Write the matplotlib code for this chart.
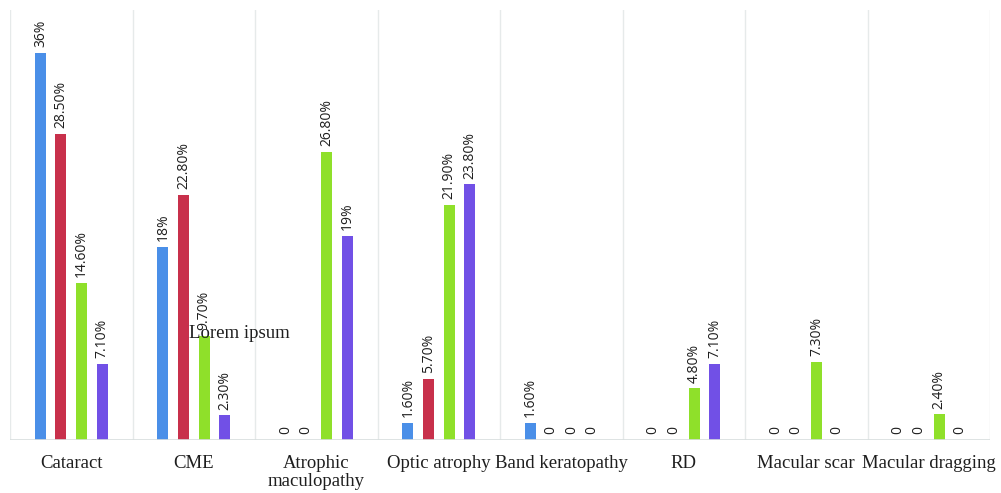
"""Complication rates per group, grouped bar chart with rotated value labels."""
import matplotlib
matplotlib.use("Agg")
import matplotlib.pyplot as plt
import numpy as np

categories = ["Cataract", "CME", "Atrophic\nmaculopathy", "Optic atrophy",
              "Band keratopathy", "RD", "Macular scar", "Macular dragging"]

series_a = [36, 18, 0, 1.6, 1.6, 0, 0, 0]
series_b = [28.5, 22.8, 0, 5.7, 0, 0, 0, 0]
series_c = [14.6, 9.7, 26.8, 21.9, 0, 4.8, 7.3, 2.4]
series_d = [7.1, 2.3, 19, 23.8, 0, 7.1, 0, 0]

colors = ["#4a8fe8", "#c8304b", "#8fe02a", "#7150e6"]


def label_for(value):
    if value == 0:
        return "0"
    if float(value).is_integer():
        return f"{int(value)}%"
    return f"{value:.2f}%"


fig = plt.figure(figsize=(10.01, 4.93), dpi=100)
ax = fig.add_axes([10 / 1001, 53 / 493, 980 / 1001, 430 / 493])

x = np.arange(len(categories))
width = 0.09
step = 0.168
all_series = [series_a, series_b, series_c, series_d]

for i, (values, color) in enumerate(zip(all_series, colors)):
    pos = x + (i - 1.5) * step
    ax.bar(pos, values, width=width, color=color, zorder=3)
    for px, v in zip(pos, values):
        ax.annotate(label_for(v), (px, v), xytext=(0, 4), textcoords="offset points",
                    ha="center", va="bottom", rotation=90, fontsize=10,
                    family="Open Sans", color="#1e1e1e")

ax.set_xlim(-0.5, len(categories) - 0.5)
ax.set_ylim(0, 40)

# vertical separators between categories
for b in np.arange(-0.5, len(categories), 1.0):
    ax.axvline(b, color="#e6eaea", lw=1, zorder=1)
ax.axhline(0, color="#d8dede", lw=1.2, zorder=4)

for s in ax.spines.values():
    s.set_visible(False)
ax.set_yticks([])
ax.set_xticks(x)
ax.set_xticklabels(categories, family="Liberation Serif", fontsize=13.5, color="#1e1e1e",
                   linespacing=1.05)
ax.tick_params(axis="x", length=0, pad=11)

ax.text(1.375, 9.9, "Lorem ipsum", ha="center", va="center", family="Liberation Serif",
        fontsize=13.5, color="#1e1e1e", zorder=5)

fig.savefig("out.png", dpi=100)
